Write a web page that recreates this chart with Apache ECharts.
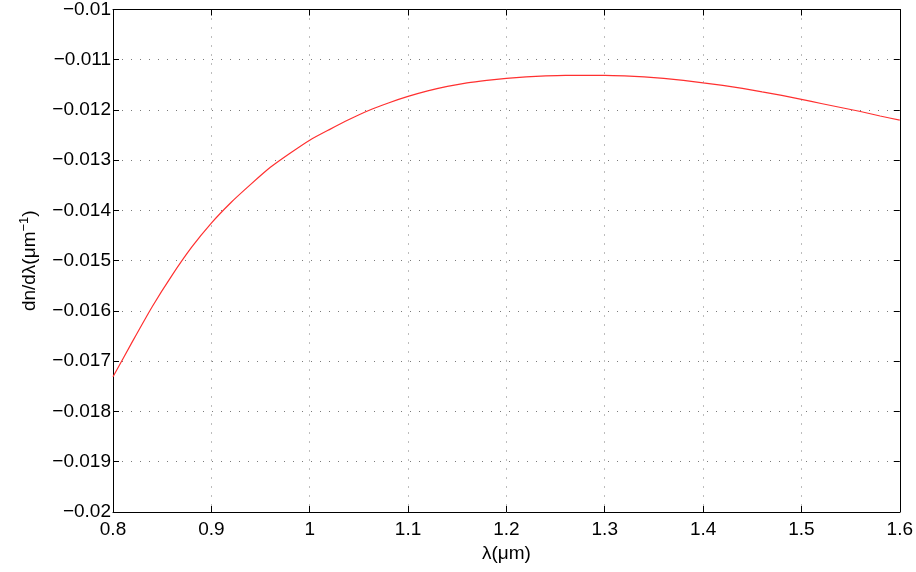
<!DOCTYPE html>
<html>
<head>
<meta charset="utf-8">
<script src="https://cdn.jsdelivr.net/npm/echarts@6/dist/echarts.min.js"></script>
<style>
  html, body { margin: 0; padding: 0; background: #fff; }
  #chart { width: 916px; height: 572px; }
</style>
</head>
<body>
<div id="chart"></div>
<script>
// wavelength in um
var lambda = [0.80, 0.82, 0.84, 0.86, 0.88, 0.90, 0.92, 0.94, 0.96, 0.98,
              1.00, 1.02, 1.04, 1.06, 1.08, 1.10, 1.12, 1.14, 1.16, 1.18,
              1.20, 1.22, 1.24, 1.26, 1.28, 1.30, 1.32, 1.34, 1.36, 1.38,
              1.40, 1.42, 1.44, 1.46, 1.48, 1.50, 1.52, 1.54, 1.56, 1.58,
              1.60];
// dn/dlambda in 1/um
var dndl = [-0.01731, -0.01660, -0.01591, -0.01529, -0.01473, -0.01425, -0.01384, -0.01348, -0.01314, -0.01286,
            -0.01260, -0.01239, -0.01219, -0.01201, -0.01186, -0.01173, -0.01162, -0.01153, -0.01146, -0.01141,
            -0.01137, -0.01134, -0.01132, -0.01131, -0.01131, -0.01131, -0.01132, -0.01134, -0.01137, -0.01141,
            -0.01146, -0.01151, -0.01157, -0.01164, -0.01171, -0.01179, -0.01187, -0.01195, -0.01203, -0.01212,
            -0.01220];

var font = "'Liberation Sans', Arial, sans-serif";
var minus = function (s) { return String(s).replace('-', '\u2212'); };

var pts = lambda.map(function (x, i) { return [x, dndl[i]]; });

var chart = echarts.init(document.getElementById('chart'));

var gridLine = { show: true, lineStyle: { color: '#7a7a7a', width: 1, type: [1, 8] } };
var frame = { show: true, onZero: false, lineStyle: { color: '#000', width: 1 } };
var tick = { show: true, inside: true, length: 6, lineStyle: { color: '#000' } };

chart.setOption({
  animation: false,
  grid: { left: 113, right: 14, top: 7, bottom: 60 },
  xAxis: [{
    type: 'value', min: 0.8, max: 1.6, interval: 0.1,
    axisLine: frame, axisTick: tick, splitLine: gridLine,
    axisLabel: {
      margin: 8, color: '#000', fontSize: 19, fontFamily: font,
      formatter: function (v) { return minus(parseFloat(v.toFixed(1))); }
    },
    name: 'λ(μm)', nameLocation: 'middle', nameGap: 30,
    nameTextStyle: { color: '#000', fontSize: 19, fontFamily: font }
  }, {
    type: 'value', position: 'top', min: 0.8, max: 1.6, interval: 0.1,
    axisLine: frame, axisTick: tick, axisLabel: { show: false }, splitLine: { show: false }
  }],
  yAxis: [{
    type: 'value', min: -0.02, max: -0.01, interval: 0.001,
    axisLine: frame, axisTick: tick, splitLine: gridLine,
    axisLabel: {
      margin: 2, color: '#000', fontSize: 19, fontFamily: font,
      formatter: function (v) { return minus(parseFloat(v.toFixed(3))); }
    },
    name: 'dn/dλ(μm{sup|−1})', nameLocation: 'middle', nameGap: 72,
    nameTextStyle: {
      color: '#000', fontSize: 19, fontFamily: font,
      rich: { sup: { fontSize: 13, fontFamily: font, color: '#000', verticalAlign: 'top', padding: [0, 0, 10, 0] } }
    }
  }, {
    type: 'value', position: 'right', min: -0.02, max: -0.01, interval: 0.001,
    axisLine: frame, axisTick: tick, axisLabel: { show: false }, splitLine: { show: false }
  }],
  series: [{
    type: 'line',
    data: pts,
    smooth: 0.2,
    showSymbol: false,
    lineStyle: { color: '#ff3030', width: 1.2 }
  }]
});
</script>
</body>
</html>
